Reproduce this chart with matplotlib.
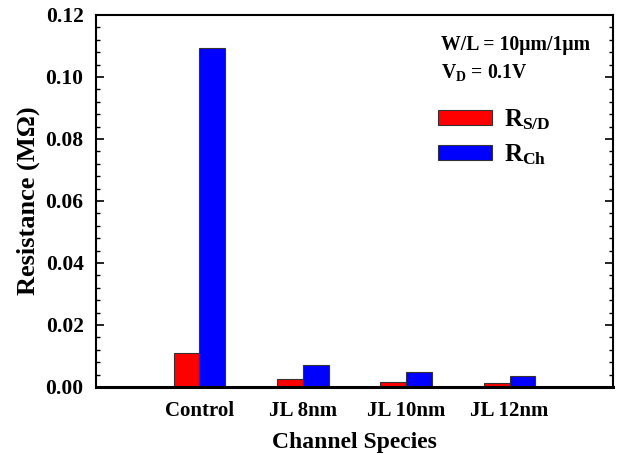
import numpy as np
import matplotlib.pyplot as plt
from matplotlib.ticker import MultipleLocator

categories = ['Control', 'JL 8nm', 'JL 10nm', 'JL 12nm']
r_sd = [0.0110, 0.0025, 0.0015, 0.0013]
r_ch = [0.1092, 0.0070, 0.0050, 0.0036]

plt.rcParams['font.family'] = 'Liberation Serif'
plt.rcParams['font.weight'] = 'bold'
plt.rcParams['mathtext.fontset'] = 'custom'
plt.rcParams['mathtext.rm'] = 'Liberation Serif:bold'
plt.rcParams['mathtext.it'] = 'Liberation Serif:bold'
plt.rcParams['mathtext.bf'] = 'Liberation Serif:bold'

fig = plt.figure(figsize=(6.17, 4.55), dpi=100)
ax = fig.add_axes([96 / 617, 1 - 387 / 455, (613 - 96) / 617, (387 - 15) / 455])

x = np.arange(1, len(categories) + 1)
w = 0.25
ax.bar(x - w / 2, r_sd, w, color='#ff0000', edgecolor='#333333', linewidth=0.8,
       label=r'R$_{\mathregular{S/D}}$')
ax.bar(x + w / 2, r_ch, w, color='#0000ff', edgecolor='#333333', linewidth=0.8,
       label=r'R$_{\mathregular{Ch}}$')

ax.set_xlim(0, 5)
ax.set_ylim(0, 0.12)
ax.set_xticks(x)
ax.set_xticklabels(categories, fontsize=15, fontweight='bold')
ax.yaxis.set_major_locator(MultipleLocator(0.02))
ax.yaxis.set_minor_locator(MultipleLocator(0.004))
ax.set_yticklabels([f'{v:.2f}' for v in ax.get_yticks()], fontsize=15.5, fontweight='bold')
ax.tick_params(axis='x', length=0, pad=10)
ax.tick_params(axis='y', which='major', direction='in', length=6, width=1.2,
               right=True, pad=9)
ax.tick_params(axis='y', which='minor', direction='in', length=3, width=1.0, right=True)

for s in ['left', 'right', 'top']:
    ax.spines[s].set_linewidth(1.5)
ax.spines['bottom'].set_linewidth(2.2)

ax.set_xlabel('Channel Species', fontsize=17, fontweight='bold', labelpad=8)
ax.set_ylabel('Resistance (M\u03a9)', fontsize=19, fontweight='bold', labelpad=4)

ax.text(0.667, 0.92, 'W/L = 10\u03bcm/1\u03bcm', transform=ax.transAxes,
        fontsize=14.2, fontweight='bold', va='center')
ax.text(0.667, 0.846, r'V$_{\mathregular{D}}$ = 0.1V', transform=ax.transAxes,
        fontsize=14.2, fontweight='bold', va='center')

ax.legend(loc='upper left', bbox_to_anchor=(0.618, 0.811), frameon=False,
          fontsize=18, handlelength=2.15, handleheight=0.55, handletextpad=0.48,
          labelspacing=0.4)

fig.savefig('out.png', dpi=100)
